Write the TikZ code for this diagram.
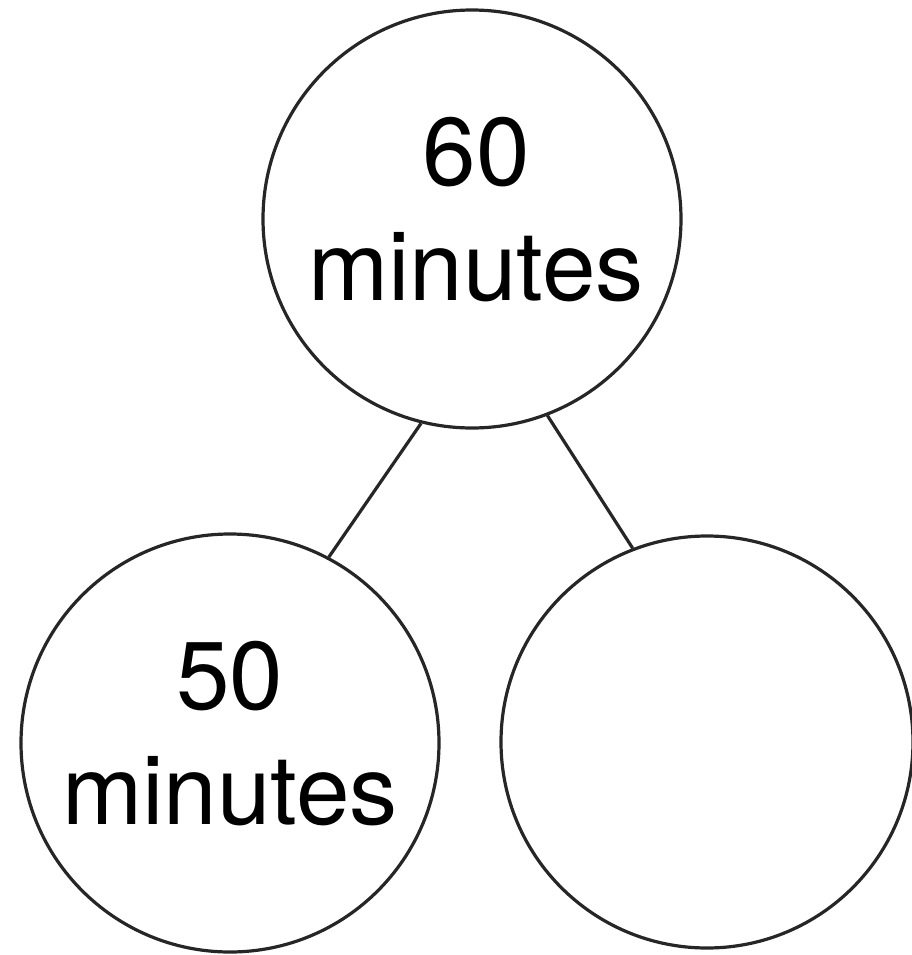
\documentclass[tikz,border=0pt]{standalone}
\usepackage{fontspec}
\setmainfont{TeX Gyre Heros}

\begin{document}
\begin{tikzpicture}[
  ring/.style={circle, draw=black!85, line width=0.032cm, minimum size=4.18cm,
               inner sep=0pt, align=center, text depth=0.2cm,
               font=\fontsize{27.4}{32.7}\selectfont},
  link/.style={draw=black!85, line width=0.032cm}
]
\useasboundingbox (0,0) rectangle (9.11,-9.55);

\node[ring] (hour) at (4.72,-2.19) {\hspace*{0.08cm}60\\\hspace*{0.08cm}minutes};
\node[ring] (part) at (2.30,-7.43) {50\\minutes};
\node[ring, minimum size=4.12cm] (rest) at (7.07,-7.42) {};

\draw[link] (hour.256) -- (part.62);
\draw[link] (hour.291) -- (rest.111);

\end{tikzpicture}
\end{document}
